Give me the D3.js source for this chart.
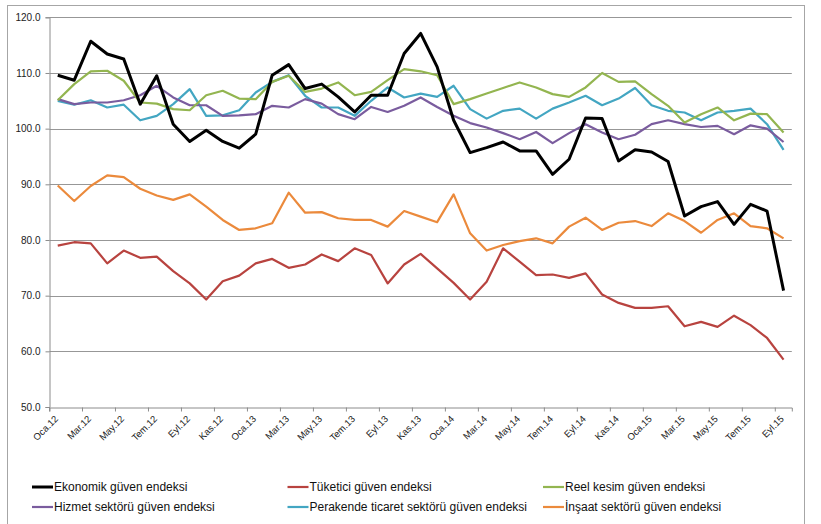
<!DOCTYPE html>
<html>
<head>
<meta charset="utf-8">
<script src="https://cdn.jsdelivr.net/npm/d3@7"></script>
<style>
  body { margin: 0; background: #fff; }
  svg { font-family: "Liberation Sans", Arial, sans-serif; }
</style>
</head>
<body>
<svg class="chart" width="821" height="524"></svg>
<script>
const months = ['Oca','Şub','Mar','Nis','May','Haz','Tem','Ağu','Eyl','Eki','Kas','Ara']
const years = ['12','13','14','15']
const categories = []
years.forEach(y => months.forEach(m => categories.push(m + '.' + y)))
categories.splice(45)   // Oca.12 .. Eyl.15

const yTicks = [50, 60, 70, 80, 90, 100, 110, 120]

const ekonomik = [109.6,108.7,115.7,113.4,112.5,104.4,109.5,100.8,97.7,99.7,97.7,96.5,99.0,109.6,111.5,
  107.2,108.0,105.7,103.0,106.0,106.0,113.5,117.1,111.1,101.5,95.7,96.6,97.6,96.0,96.0,
  91.8,94.5,101.9,101.8,94.2,96.2,95.8,94.1,84.3,86.0,86.9,82.8,86.4,85.2,70.9]
const tuketici = [79.0,79.6,79.4,75.8,78.1,76.8,77.0,74.4,72.2,69.3,72.6,73.6,75.8,76.6,75.0,
  75.6,77.4,76.2,78.5,77.3,72.2,75.6,77.5,74.9,72.3,69.3,72.5,78.5,76.1,73.7,
  73.8,73.2,74.0,70.2,68.7,67.8,67.8,68.1,64.5,65.3,64.4,66.4,64.7,62.4,58.5]
const reel = [105.1,108.0,110.3,110.4,108.6,104.7,104.5,103.5,103.3,106.0,106.8,105.4,105.3,108.4,109.5,
  106.6,107.2,108.3,106.0,106.6,108.7,110.7,110.3,109.6,104.4,105.3,106.3,107.3,108.3,107.4,
  106.2,105.7,107.4,110.0,108.4,108.5,106.2,104.1,101.1,102.6,103.8,101.5,102.7,102.6,99.3]
const hizmet = [105.3,104.4,104.7,104.7,105.1,106.0,107.7,105.6,104.2,104.2,102.3,102.4,102.6,104.1,103.8,
  105.3,104.5,102.6,101.7,103.9,103.0,104.1,105.6,103.9,102.3,101.0,100.2,99.2,98.1,99.4,
  97.4,99.2,100.8,99.3,98.1,98.9,100.8,101.5,100.8,100.3,100.5,99.0,100.6,100.0,97.6]
const perakende = [105.0,104.3,105.1,103.8,104.3,101.5,102.3,104.4,107.1,102.3,102.4,103.3,106.5,108.4,109.6,
  105.9,103.8,103.8,102.3,105.0,107.4,105.6,106.3,105.7,107.7,103.5,101.8,103.2,103.6,101.8,
  103.6,104.7,105.9,104.2,105.4,107.3,104.2,103.2,102.9,101.5,102.9,103.2,103.6,100.8,96.2]
const insaat = [89.8,87.0,89.7,91.6,91.3,89.2,88.0,87.2,88.2,86.0,83.6,81.8,82.1,83.0,88.5,
  84.9,85.0,83.9,83.6,83.6,82.4,85.2,84.2,83.2,88.2,81.2,78.1,79.1,79.8,80.3,
  79.4,82.4,84.0,81.8,83.1,83.4,82.5,84.8,83.4,81.3,83.6,84.8,82.5,82.1,80.3]

const seriesNames = ['Ekonomik güven endeksi','Tüketici güven endeksi','Reel kesim güven endeksi',
  'Hizmet sektörü güven endeksi','Perakende ticaret sektörü güven endeksi','İnşaat sektörü güven endeksi']

const series = [
  {name: seriesNames[0], values: ekonomik, color: '#000000', width: 3},
  {name: seriesNames[1], values: tuketici, color: '#B8433F', width: 2.2},
  {name: seriesNames[2], values: reel, color: '#93B550', width: 2.2},
  {name: seriesNames[3], values: hizmet, color: '#7A5C9E', width: 2.2},
  {name: seriesNames[4], values: perakende, color: '#43A6C2', width: 2.2},
  {name: seriesNames[5], values: insaat, color: '#EB8A3C', width: 2.2}
]

const svg = d3.select('.chart')
const plot = {left: 49.5, right: 791.8, top: 17.3, bottom: 407}

// outer frame
svg.append('rect')
  .attr('x', 7.5).attr('y', 5.5)
  .attr('width', 797).attr('height', 530)
  .attr('fill', 'none').attr('stroke', '#a6a6a6')

const xBand = d3.scaleBand()
  .domain(categories)
  .range([plot.left, plot.right])
  .padding(0)

const xValue = (d, i) => xBand(categories[i]) + xBand.bandwidth() / 2

const yScale = d3.scaleLinear()
  .domain([50, 120])
  .range([plot.bottom, plot.top])

// gridlines
svg.append('g')
  .selectAll('line')
  .data(yTicks.filter(d => d > 50))
  .enter()
  .append('line')
  .attr('x1', plot.left).attr('x2', plot.right)
  .attr('y1', d => Math.round(yScale(d)) + 0.5)
  .attr('y2', d => Math.round(yScale(d)) + 0.5)
  .attr('stroke', '#979797')

// y axis
const yAxis = svg.append('g')
  .attr('transform', `translate(${Math.round(plot.left) - 0.5},0)`)
  .call(d3.axisLeft(yScale).tickValues(yTicks).tickFormat(d3.format('.1f')).tickSize(4).tickPadding(5))
yAxis.select('.domain').attr('stroke', '#8c8c8c')
yAxis.selectAll('.tick line').attr('stroke', '#8c8c8c')
yAxis.selectAll('text').attr('font-size', 10).attr('fill', '#222')
  .attr('font-family', '"Liberation Sans", Arial, sans-serif')

// x axis: ticks at category boundaries, labels at category centre
const labelCats = categories.filter((d, i) => i % 2 === 0)
const xAxis = svg.append('g')
  .attr('transform', `translate(0,${Math.round(plot.bottom) + 0.5})`)
  .call(d3.axisBottom(xBand).tickValues(labelCats).tickSizeOuter(0).tickSize(4))
xAxis.select('.domain').attr('stroke', '#8c8c8c')
xAxis.selectAll('.tick line')
  .attr('stroke', '#8c8c8c')
  .attr('transform', `translate(${-xBand.bandwidth() / 2},0)`)
xAxis.selectAll('.tick text')
  .attr('font-size', 9.5)
  .attr('fill', '#222')
  .attr('font-family', '"Liberation Sans", Arial, sans-serif')
  .attr('text-anchor', 'end')
  .attr('dy', null)
  .attr('y', 0)
  .attr('transform', 'translate(1,12) rotate(-45)')

// lines
const line = d3.line()
  .x(xValue)
  .y(d => yScale(d))

svg.append('g')
  .selectAll('path')
  .data(series.slice().reverse())
  .enter()
  .append('path')
  .attr('d', d => line(d.values))
  .attr('fill', 'none')
  .attr('stroke', d => d.color)
  .attr('stroke-width', d => d.width)
  .attr('stroke-linejoin', 'round')

// legend
const legend = svg.append('g')
  .selectAll('g')
  .data(series)
  .enter()
  .append('g')
  .attr('transform', (d, i) => `translate(${32 + (i % 3) * 255.5},${i < 3 ? 487 : 507})`)

legend.append('line')
  .attr('x1', 0).attr('x2', 21)
  .attr('stroke', d => d.color)
  .attr('stroke-width', d => d.width)

legend.append('text')
  .attr('x', 22)
  .attr('dy', '0.35em')
  .attr('font-size', 12)
  .attr('fill', '#111')
  .text(d => d.name)
</script>
</body>
</html>
